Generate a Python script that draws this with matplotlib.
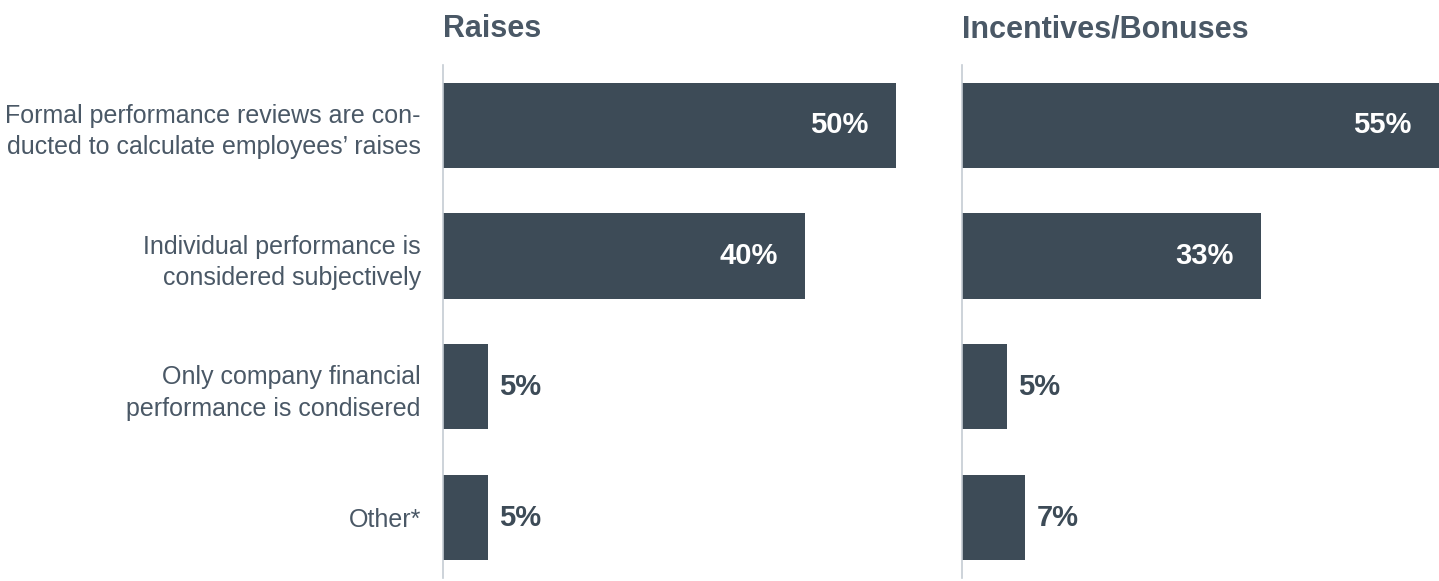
import matplotlib
matplotlib.use("Agg")
import matplotlib.pyplot as plt
from matplotlib.transforms import blended_transform_factory

plt.rcParams['font.family'] = ['Liberation Sans', 'DejaVu Sans']

categories = [
    "Formal performance reviews are con-\nducted to calculate employees\u2019 raises",
    "Individual performance is\nconsidered subjectively",
    "Only company financial\nperformance is condisered",
    "Other*",
]
raises = [50, 40, 5, 5]
bonuses = [55, 33, 5, 7]
titles = ["Raises", "Incentives/Bonuses"]

BAR = "#3d4b57"
TEXT = "#4a5866"
AXIS = "#c5ccd3"

fig = plt.figure(figsize=(14.39, 5.81), dpi=100)
ax1 = fig.add_axes([0.3079, 0.0052, 0.3273, 0.883])
ax2 = fig.add_axes([0.6685, 0.0052, 0.3315, 0.883])

px_per_pct = 9.06
limits = [471 / px_per_pct, 477 / px_per_pct]

for ax, vals, title, xmax in zip([ax1, ax2], [raises, bonuses], titles, limits):
    y = list(range(len(vals)))
    ax.barh(y, vals, height=0.65, color=BAR)
    ax.set_xlim(0, xmax)
    ax.set_ylim(3.46, -0.46)
    for s in ["top", "right", "bottom"]:
        ax.spines[s].set_visible(False)
    ax.spines["left"].set_color(AXIS)
    ax.spines["left"].set_linewidth(1.2)
    ax.set_xticks([])
    ax.tick_params(axis="y", length=0)
    for yi, v in zip(y, vals):
        if v >= 20:
            # big bars: white label inside the bar end (clipped bars use the axis edge)
            ax.annotate(f"{v}%", (min(v, xmax), yi), xytext=(-20, 0),
                        textcoords="offset points", ha="right", va="center",
                        color="white", fontsize=21, fontweight="bold")
        else:
            ax.annotate(f"{v}%", (v, yi), xytext=(8, 0),
                        textcoords="offset points", ha="left", va="center",
                        color=BAR, fontsize=21, fontweight="bold")
    trans = blended_transform_factory(ax.transAxes, fig.transFigure)
    ax.text(0, 1.0 - 29 / 581, title, transform=trans, ha="left", va="center",
            color=TEXT, fontsize=22, fontweight="bold")

ax1.set_yticks(range(len(categories)))
ax1.set_yticklabels(categories, fontsize=18, color=TEXT, linespacing=1.4)
ax1.tick_params(axis="y", pad=16)
ax2.set_yticks([])

fig.savefig("out.png", dpi=100)
